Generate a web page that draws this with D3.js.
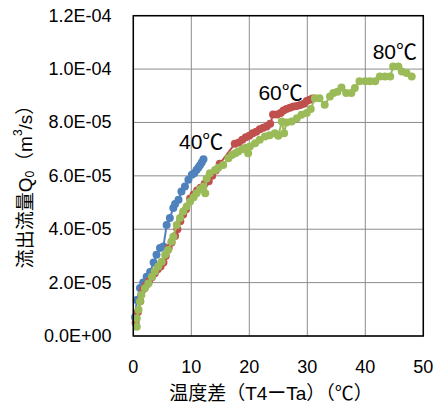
<!DOCTYPE html>
<html>
<head>
<meta charset="utf-8">
<script src="https://cdn.jsdelivr.net/npm/d3@7"></script>
<style>
  body { margin: 0; background: #fff; }
  text { font-family: "Liberation Sans", "Noto Sans CJK JP", sans-serif; fill: #000; }
</style>
</head>
<body>
<div id="chart"></div>
<script>
var width = 443;
var height = 409;

// [温度差 (℃), 流出流量 (x1e-5 m3/s)]
var series40 = [
  [0.3,0.7],[0.6,1.35],[1.15,1.8],[1.7,2.0],[2.3,2.22],[2.9,2.4],[3.5,2.75],[4.0,3.04],[4.6,3.3],[5.2,3.35],
  [5.75,4.16],[6.3,4.42],[6.9,4.8],[7.2,4.95],[7.8,5.1],[8.3,5.41],[8.9,5.6],[9.5,5.85],[10.1,6.04],
  [10.5,6.1],[10.9,6.22],[11.2,6.3],[11.5,6.4],[11.8,6.5],[12.1,6.62]
];
var series60 = [
  [0.4,0.5],[0.8,0.9],[1.2,1.3],[1.7,1.75],[2.2,1.9],[2.7,2.05],[3.2,2.2],[3.7,2.35],[4.2,2.5],[4.7,2.6],
  [5.2,2.75],[5.6,3.0],[6.1,3.3],[6.6,3.5],[7.2,3.75],[7.6,4.0],[8.1,4.3],[8.6,4.55],[9.1,4.75],[9.8,5.15],
  [10.4,5.3],[11.0,5.45],[11.6,5.55],[12.3,5.7],[13.0,5.8],[13.6,6.0],[14.2,6.2],[14.9,6.45],[17.5,7.2],
  [18.2,7.25],[18.8,7.35],[19.4,7.45],[20.0,7.5],[20.6,7.6],[21.2,7.65],[21.8,7.75],[22.4,7.8],[23.0,7.85],
  [23.6,7.95],[24.1,8.3],[24.8,8.3],[25.4,8.35],[25.9,8.45],[26.4,8.5],[27.0,8.55],[27.6,8.6],[28.2,8.62],
  [28.8,8.65],[29.4,8.7],[29.9,8.8],[30.4,8.85],[30.9,8.9]
];
var series80 = [
  [0.6,0.35],[0.6,0.66],[0.9,0.98],[1.15,1.29],[1.4,1.54],[2.0,1.79],[2.6,1.97],[3.2,2.22],[3.7,2.42],
  [4.3,2.6],[4.9,2.78],[5.5,3.04],[6.0,3.22],[6.6,3.54],[6.9,3.72],[7.5,4.16],[8.05,4.42],[8.6,4.66],
  [9.2,4.85],[9.8,5.04],[10.4,5.2],[10.9,5.35],[11.5,5.5],[12.1,5.6],[12.4,5.35],[12.65,5.9],[13.2,6.1],
  [14.1,6.22],[14.65,6.3],[15.5,6.41],[16.4,6.66],[17.0,6.78],[17.6,6.85],[18.1,6.91],[18.8,7.0],[19.4,7.05],
  [19.8,6.85],[20.1,7.1],[21.0,7.22],[21.8,7.35],[22.7,7.47],[23.5,7.52],[24.4,7.6],[25.0,7.5],[25.6,8.04],
  [26.0,7.6],[26.4,8.0],[27.3,8.04],[28.2,8.16],[29.0,8.29],[29.9,8.35],[30.6,8.5],[31.3,8.91],[32.1,8.91],
  [33.0,8.66],[33.9,8.97],[34.5,9.1],[35.2,9.15],[35.9,9.31],[36.7,9.1],[37.6,9.1],[38.2,9.29],[39.0,9.54],
  [40.0,9.54],[40.8,9.54],[41.7,9.54],[42.5,9.72],[43.4,9.72],[44.3,9.72],[44.8,10.1],[45.7,10.1],
  [46.3,9.91],[47.1,9.85],[48.0,9.72]
];
var seriesNames = ["40℃", "60℃", "80℃"];
var seriesColors = ["#4f81bd", "#c0504d", "#9bbb59"];
// label anchor points in data units
var labelPos = [[11.7, 7.27], [25.4, 9.11], [45.1, 10.65]];

var xTicks = [0, 10, 20, 30, 40, 50];
var yTicks = [0, 2, 4, 6, 8, 10, 12];
var yTickLabels = ["0.0E+00", "2.0E-05", "4.0E-05", "6.0E-05", "8.0E-05", "1.0E-04", "1.2E-04"];

var pLeft = 133.3, pRight = 423.3, pTop = 15.7, pBottom = 336;

var svg = d3.select('#chart').append('svg')
  .attr('width', width)
  .attr('height', height);

var xScale = d3.scaleLinear().domain([0, 50]).range([pLeft, pRight]);
var yScale = d3.scaleLinear().domain([0, 12]).range([pBottom, pTop]);

// grid
var grid = svg.append('g');
grid.selectAll('line.v').data(xTicks).enter().append('line')
  .attr('class', 'v')
  .attr('x1', function(d){ return xScale(d); })
  .attr('x2', function(d){ return xScale(d); })
  .attr('y1', pTop).attr('y2', pBottom)
  .attr('stroke', '#8c8c8c').attr('stroke-width', 1);
grid.selectAll('line.h').data(yTicks).enter().append('line')
  .attr('class', 'h')
  .attr('y1', function(d){ return yScale(d); })
  .attr('y2', function(d){ return yScale(d); })
  .attr('x1', pLeft).attr('x2', pRight)
  .attr('stroke', '#8c8c8c').attr('stroke-width', 1);

// tick labels
svg.append('g').selectAll('text').data(yTicks).enter().append('text')
  .attr('x', 111.5)
  .attr('y', function(d){ return yScale(d); })
  .attr('text-anchor', 'end')
  .attr('dominant-baseline', 'central')
  .style('font-size', '18px')
  .text(function(d, i){ return yTickLabels[i]; });

svg.append('g').selectAll('text').data(xTicks).enter().append('text')
  .attr('x', function(d){ return xScale(d); })
  .attr('y', 367)
  .attr('text-anchor', 'middle')
  .attr('dominant-baseline', 'central')
  .style('font-size', '18px')
  .text(function(d){ return d; });

// series
var line = d3.line()
  .x(function(d){ return xScale(d[0]); })
  .y(function(d){ return yScale(d[1]); });

[series40, series60, series80].forEach(function(s, i) {
  var g = svg.append('g');
  g.append('path')
    .datum(s)
    .attr('d', line)
    .attr('fill', 'none')
    .attr('stroke', seriesColors[i])
    .attr('stroke-width', 2);
  g.selectAll('circle').data(s).enter().append('circle')
    .attr('cx', function(d){ return xScale(d[0]); })
    .attr('cy', function(d){ return yScale(d[1]); })
    .attr('r', 4)
    .style('fill', seriesColors[i]);
});

// plot frame
svg.append('rect')
  .attr('x', pLeft).attr('y', pTop)
  .attr('width', pRight - pLeft).attr('height', pBottom - pTop)
  .attr('fill', 'none').attr('stroke', '#000').attr('stroke-width', 1.5);

// series labels
svg.append('g').selectAll('text').data(labelPos).enter().append('text')
  .attr('x', function(d){ return xScale(d[0]); })
  .attr('y', function(d){ return yScale(d[1]); })
  .attr('text-anchor', 'middle')
  .attr('dominant-baseline', 'central')
  .style('font-size', '21px')
  .text(function(d, i){ return seriesNames[i]; });

// axis titles
svg.append('text')
  .attr('x', 271).attr('y', 393.5)
  .attr('text-anchor', 'middle')
  .attr('dominant-baseline', 'central')
  .style('font-size', '19px')
  .text('温度差（T4ーTa）（℃）');

var yt = svg.append('text')
  .attr('transform', 'translate(25,182) rotate(-90)')
  .attr('text-anchor', 'middle')
  .attr('dominant-baseline', 'central')
  .style('font-size', '19px');
yt.append('tspan').text('流出流量Q');
yt.append('tspan').attr('dy', 5).style('font-size', '12px').text('0');
yt.append('tspan').attr('dy', -5).text('（m');
yt.append('tspan').attr('dy', -7).style('font-size', '12px').text('3');
yt.append('tspan').attr('dy', 7).text('/s）');
</script>
</body>
</html>
